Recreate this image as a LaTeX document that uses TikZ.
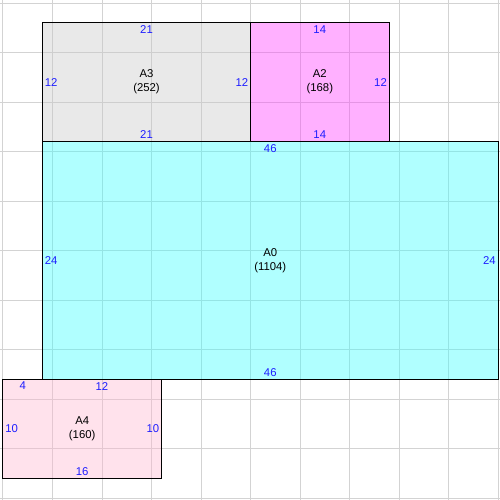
\documentclass[tikz,border=0pt]{standalone}
\usepackage{fontspec}
\setmainfont{Liberation Sans}
\definecolor{lenblue}{RGB}{30,30,255}
\definecolor{gridgrey}{RGB}{211,211,211}
\definecolor{roomgrey}{RGB}{200,200,200}
\definecolor{roommagenta}{RGB}{255,58,255}
\definecolor{roomcyan}{RGB}{58,255,255}
\definecolor{roompink}{RGB}{255,182,207}
\newcommand{\cellsize}{7.425pt}
\begin{document}
\begin{tikzpicture}
    [
    x=\cellsize, y=-\cellsize,
    room/.style={draw,line width=0.75pt,anchor=north west,inner sep=0pt,outer sep=0pt,
      fill opacity=0.4,draw opacity=1,text opacity=1,
      align=center,font=\fontsize{8.5}{10.5}\selectfont},
    len/.style={text=lenblue,inner xsep=1.5pt,inner ysep=2pt,font=\fontsize{8.5}{10}\selectfont},
    gridline/.style={draw=gridgrey,line width=0.75pt},
    ]
    \useasboundingbox (-0.303,-0.303) rectangle (50.202,50.202);
    % grid
    \foreach \i in {0,5,...,50} {
      \draw [gridline] (\i,-0.303) -- (\i,50.202);
      \draw [gridline] (-0.303,\i) -- (50.202,\i);
    }
    % rooms
    \node (a3) at (4,2) [room,fill=roomgrey,minimum width=21*\cellsize,minimum height=12*\cellsize] {A3\\(252)};
    \node (a2) at (25,2) [room,fill=roommagenta,minimum width=14*\cellsize,minimum height=12*\cellsize] {A2\\(168)};
    \node (a0) at (4,14) [room,fill=roomcyan,minimum width=46*\cellsize,minimum height=24*\cellsize] {A0\\(1104)};
    \node (a4) at (0,38) [room,fill=roompink,minimum width=16*\cellsize,minimum height=10*\cellsize] {A4\\(160)};
    % lengths
    \node (a3n) at (a3.north) [len,anchor=north] {21};
    \node (a3s) at (a3.south) [len,anchor=south] {21};
    \node (a3w) at (a3.west) [len,anchor=west] {12};
    \node (a3e) at (a3.east) [len,anchor=east] {12};
    \node (a2n) at (a2.north) [len,anchor=north] {14};
    \node (a2s) at (a2.south) [len,anchor=south] {14};
    \node (a2e) at (a2.east) [len,anchor=east] {12};
    \node (a0n) at (a0.north) [len,anchor=north] {46};
    \node (a0s) at (a0.south) [len,anchor=south] {46};
    \node (a0w) at (a0.west) [len,anchor=west] {24};
    \node (a0e) at (a0.east) [len,anchor=east] {24};
    \node (a4nw) at (2,38) [len,anchor=north] {4};
    \node (a4ne) at (10,38) [len,anchor=north] {12};
    \node (a4s) at (a4.south) [len,anchor=south] {16};
    \node (a4w) at (a4.west) [len,anchor=west] {10};
    \node (a4e) at (a4.east) [len,anchor=east] {10};
  \end{tikzpicture}
\end{document}
